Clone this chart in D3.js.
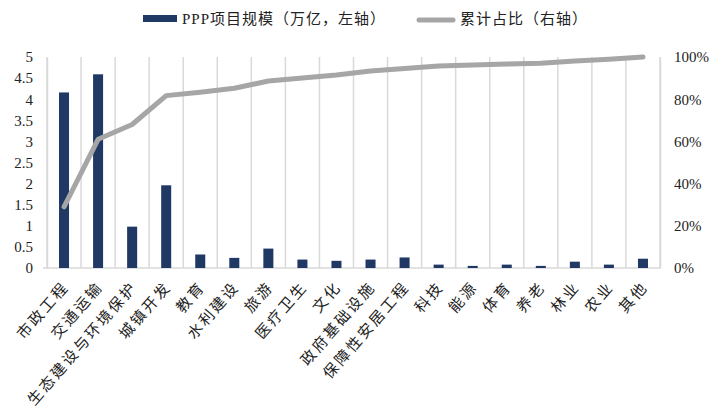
<!DOCTYPE html>
<html><head><meta charset="utf-8">
<script src="https://cdn.jsdelivr.net/npm/d3@7"></script>
<style>
body{margin:0;background:#fff;}
svg{display:block;}
</style></head>
<body><svg id="c" width="728" height="412"></svg>
<script>
const categories = ["市政工程","交通运输","生态建设与环境保护","城镇开发","教育","水利建设","旅游","医疗卫生","文化","政府基础设施","保障性安居工程","科技","能源","体育","养老","林业","农业","其他"];
const scaleValues = [4.16,4.59,0.98,1.96,0.32,0.24,0.46,0.2,0.17,0.2,0.25,0.08,0.05,0.08,0.05,0.15,0.08,0.22];
const cumulativeShare = [0.29,0.61,0.68,0.817,0.833,0.852,0.886,0.90,0.915,0.934,0.946,0.957,0.962,0.967,0.97,0.981,0.989,1.0];
const leftTicks = [0,0.5,1,1.5,2,2.5,3,3.5,4,4.5,5];
const rightTicks = [0,0.2,0.4,0.6,0.8,1.0];
const legendLabels = ["PPP项目规模（万亿，左轴）","累计占比（右轴）"];

const svg = d3.select("#c");
const L = 47, R = 660, T = 57, B = 268;
const FONT = "'Liberation Serif','Noto Sans CJK SC',serif";

const x = d3.scaleBand().domain(categories).range([L, R]).paddingInner(0.706).paddingOuter(0.353);
const yL = d3.scaleLinear().domain([0,5]).range([B, T]);
const yR = d3.scaleLinear().domain([0,1]).range([B, T]);
const step = x.step();

// vertical gridlines at category boundaries
const bounds = categories.map(c => x(c) + x.bandwidth()/2 - step/2).concat([x(categories[categories.length-1]) + x.bandwidth()/2 + step/2]);
svg.append("g").selectAll("line").data(bounds).join("line")
  .attr("x1", d=>d).attr("x2", d=>d).attr("y1", T).attr("y2", B)
  .attr("stroke", "#D9D9D9").attr("stroke-width", 1.5);

// bottom axis line
svg.append("line").attr("x1", L-4).attr("x2", R).attr("y1", B).attr("y2", B)
  .attr("stroke", "#D9D9D9").attr("stroke-width", 1.5);

// bars
svg.append("g").selectAll("rect").data(scaleValues).join("rect")
  .attr("x", (d,i)=>x(categories[i])).attr("width", x.bandwidth())
  .attr("y", d=>yL(d)).attr("height", d=>B - yL(d))
  .attr("fill", "#203864");

// line
const line = d3.line().x((d,i)=>x(categories[i]) + x.bandwidth()/2).y(d=>yR(d));
svg.append("path").datum(cumulativeShare).attr("d", line)
  .attr("fill","none").attr("stroke","#A6A6A6").attr("stroke-width",5)
  .attr("stroke-linejoin","round").attr("stroke-linecap","round");

// left axis
const gl = svg.append("g").attr("transform",`translate(${L},0)`)
  .call(d3.axisLeft(yL).tickValues(leftTicks).tickSize(0).tickPadding(14).tickFormat(d=>String(d)));
gl.select(".domain").attr("stroke","#D9D9D9").attr("stroke-width",1.5);
gl.selectAll("text").attr("font-family", FONT).attr("font-size", 15).attr("fill","#222");

// right axis
const gr = svg.append("g").attr("transform",`translate(${R},0)`)
  .call(d3.axisRight(yR).tickValues(rightTicks).tickSize(0).tickPadding(14).tickFormat(d3.format(".0%")));
gr.select(".domain").attr("stroke","#D9D9D9").attr("stroke-width",1.5);
gr.selectAll("text").attr("font-family", FONT).attr("font-size", 15).attr("fill","#222");

// x labels
svg.append("g").selectAll("text").data(categories).join("text")
  .attr("transform", d=>`translate(${x(d)+x.bandwidth()/2+2},${B+16}) rotate(-49)`)
  .attr("text-anchor","end").attr("dominant-baseline","central")
  .attr("font-family", FONT).attr("font-size", 15).attr("letter-spacing", 2.5).attr("fill","#222")
  .text(d=>d);

// legend
const lg = svg.append("g");
lg.append("rect").attr("x",143).attr("y",15).attr("width",34).attr("height",7).attr("fill","#203864");
lg.append("text").attr("x",182).attr("y",19).attr("dominant-baseline","central")
  .attr("font-family",FONT).attr("font-size",15).attr("letter-spacing",1).attr("fill","#222").text(legendLabels[0]);
lg.append("line").attr("x1",419).attr("x2",453).attr("y1",20).attr("y2",20)
  .attr("stroke","#A6A6A6").attr("stroke-width",5).attr("stroke-linecap","round");
lg.append("text").attr("x",460).attr("y",19).attr("dominant-baseline","central")
  .attr("font-family",FONT).attr("font-size",15).attr("letter-spacing",1).attr("fill","#222").text(legendLabels[1]);
</script></body></html>
